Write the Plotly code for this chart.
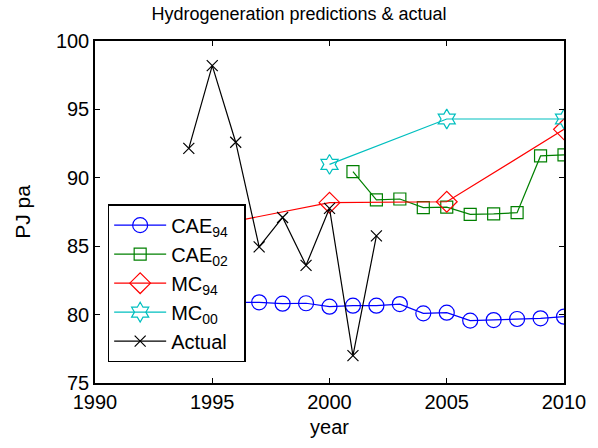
import plotly.graph_objects as go

cae94_years = list(range(1994, 2011))
cae94_vals = [80.9, 80.9, 80.9, 80.9, 80.8, 80.83, 80.58, 80.65, 80.65, 80.77,
              80.09, 80.14, 79.56, 79.6, 79.68, 79.73, 79.85]

cae02_years = list(range(2001, 2011))
cae02_vals = [90.45, 88.38, 88.45, 87.82, 87.85, 87.33, 87.36, 87.45, 91.6, 91.67]

mc94_years = [1995, 2000, 2005, 2010]
mc94_vals = [86.5, 88.18, 88.25, 93.54]

mc00_years = [2000, 2005, 2010]
mc00_vals = [90.98, 94.3, 94.3]

actual_years = list(range(1994, 2003))
actual_vals = [92.15, 98.2, 92.6, 84.95, 87.1, 83.6, 87.77, 77.0, 85.75]

x_ticks = [1990, 1995, 2000, 2005, 2010]
y_ticks = [75, 80, 85, 90, 95, 100]

FONT = "Liberation Sans, Arial, sans-serif"
PAD = "&nbsp;&nbsp;"

series = [
    ("CAE<sub>94</sub>" + PAD, cae94_years, cae94_vals, "#0000FF", "circle-open", 15),
    ("CAE<sub>02</sub>" + PAD, cae02_years, cae02_vals, "#008000", "square-open", 12),
    ("MC<sub>94</sub>" + PAD, mc94_years, mc94_vals, "#FF0000", "diamond-open", 16),
    ("MC<sub>00</sub>" + PAD, mc00_years, mc00_vals, "#00BFBF", "hexagram-open", 15),
    ("Actual" + PAD, actual_years, actual_vals, "#000000", "x-thin-open", 11),
]

fig = go.Figure()
for name, xs, ys, col, sym, sz in series:
    fig.add_trace(go.Scatter(
        x=xs, y=ys, name=name, mode="lines+markers",
        line=dict(color=col, width=1.2),
        marker=dict(symbol=sym, size=sz, color=col, line=dict(color=col, width=1.2)),
    ))

axis_common = dict(
    showline=True, linecolor="black", linewidth=1.5, mirror="ticks",
    ticks="inside", ticklen=5, tickcolor="black", tickwidth=1,
    showgrid=False, zeroline=False,
    tickfont=dict(family=FONT, size=20, color="black"),
)

fig.update_layout(
    width=598, height=448,
    margin=dict(l=95, r=25, t=41, b=65),
    paper_bgcolor="white", plot_bgcolor="white",
    font=dict(family=FONT, size=20, color="black"),
    title=dict(text="Hydrogeneration predictions & actual", x=0.5, xanchor="center",
               y=0.97, yanchor="middle", font=dict(family=FONT, size=18, color="black")),
    xaxis=dict(range=[1990, 2010], tickvals=x_ticks,
               title=dict(text="year", font=dict(family=FONT, size=20), standoff=8),
               **axis_common),
    yaxis=dict(range=[75, 100], tickvals=y_ticks,
               title=dict(text="PJ pa", font=dict(family=FONT, size=21), standoff=20),
               **axis_common),
    legend=dict(x=0.027, y=0.523, xanchor="left", yanchor="top",
                bgcolor="white", bordercolor="black", borderwidth=1.5,
                font=dict(family=FONT, size=20, color="black"),
                tracegroupgap=0, itemwidth=52),
    showlegend=True,
)

fig.write_html("out.html")
